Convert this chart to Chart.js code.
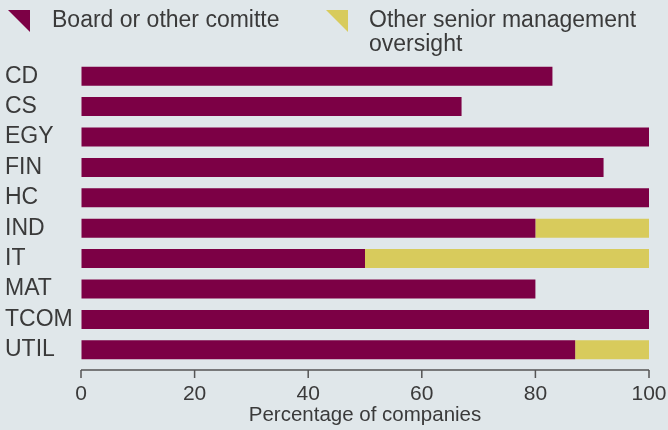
<!DOCTYPE html>
<html>
<head>
<meta charset="utf-8">
<script src="https://cdn.jsdelivr.net/npm/chart.js@4"></script>
<style>
  html, body { margin: 0; padding: 0; background: #e0e7ea; }
  #wrap { position: relative; width: 668px; height: 430px; }
  #legend { position: absolute; left: 0; top: 0; width: 668px; height: 60px;
    font-family: "Liberation Sans", Arial, sans-serif; font-size: 23px; line-height: 24px; color: #3a3a3a; }
  .tri { position: absolute; top: 10px; width: 22px; height: 22px; clip-path: polygon(0 0, 100% 0, 100% 100%); }
  .lab { position: absolute; top: 7px; }
</style>
</head>
<body>
<div id="wrap">
  <canvas id="chart" width="668" height="430"></canvas>
  <div id="legend">
    <div class="tri" style="left:8px;background:#7c0045"></div>
    <div class="lab" style="left:52px">Board or other comitte</div>
    <div class="tri" style="left:326px;background:#d8cb5c"></div>
    <div class="lab" style="left:369px">Other senior management<br>oversight</div>
  </div>
</div>
<script>
  const labels = ["CD", "CS", "EGY", "FIN", "HC", "IND", "IT", "MAT", "TCOM", "UTIL"];
  const boardValues = [83, 67, 100, 92, 100, 80, 50, 80, 100, 87];
  const otherValues = [0, 0, 0, 0, 0, 20, 50, 0, 0, 13];
  const xTicks = [0, 20, 40, 60, 80, 100];

  const textColor = "#3a3a3a";
  const fontFamily = "'Liberation Sans', Arial, sans-serif";

  // axis line sits a few px below the last bar, so draw it by hand
  const axisLine = {
    id: "axisLine",
    afterDraw(chart) {
      const ctx = chart.ctx;
      const x = chart.scales.x;
      const y = chart.chartArea.bottom + 5;
      ctx.save();
      ctx.strokeStyle = "#555";
      ctx.lineWidth = 1.5;
      ctx.beginPath();
      ctx.moveTo(x.getPixelForValue(0), y);
      ctx.lineTo(x.getPixelForValue(100), y);
      xTicks.forEach(v => {
        const px = x.getPixelForValue(v);
        ctx.moveTo(px, y);
        ctx.lineTo(px, y + 8);
      });
      ctx.stroke();
      ctx.restore();
    }
  };

  let data = {
    labels: labels,
    datasets: [
      {
        label: "Board or other comitte",
        data: boardValues,
        backgroundColor: "#7c0045",
      },
      {
        label: "Other senior management oversight",
        data: otherValues,
        backgroundColor: "#d8cb5c",
      },
    ],
  };

  let config = {
    type: "bar",
    data: data,
    plugins: [axisLine],
    options: {
      indexAxis: "y",
      responsive: false,
      animation: false,
      barPercentage: 0.625,
      categoryPercentage: 1,
      layout: { padding: { left: 5, right: 19, top: 61, bottom: 0 } },
      plugins: { legend: { display: false }, tooltip: { enabled: false } },
      scales: {
        x: {
          stacked: true,
          min: 0,
          max: 100,
          afterBuildTicks: (axis) => { axis.ticks = xTicks.map(v => ({ value: v })); },
          afterFit: (axis) => {
            axis.height = 65;
            axis.paddingLeft = 0;
            axis.paddingRight = 0;
          },
          grid: { drawOnChartArea: false, color: "transparent", tickLength: 13 },
          border: { display: false },
          ticks: { color: textColor, font: { family: fontFamily, size: 21 }, padding: 4 },
          title: {
            display: true,
            text: "Percentage of companies",
            color: textColor,
            font: { family: fontFamily, size: 20.5 },
            padding: { top: 0, bottom: 2 },
          },
        },
        y: {
          stacked: true,
          afterFit: (axis) => { axis.width = 76; },
          grid: { display: false, drawTicks: false },
          border: { display: false },
          ticks: { color: textColor, font: { family: fontFamily, size: 23 }, crossAlign: "far", padding: 0, autoSkip: false },
        },
      },
    },
  };

  new Chart(document.getElementById("chart"), config);
</script>
</body>
</html>
